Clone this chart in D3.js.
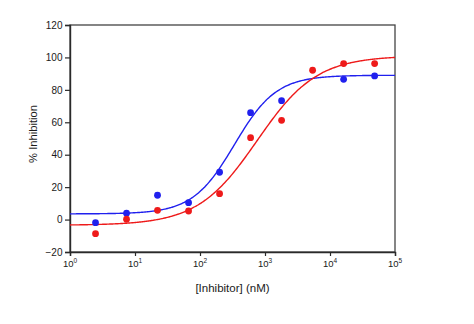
<!DOCTYPE html>
<html>
<head>
<meta charset="utf-8">
<script src="https://cdn.jsdelivr.net/npm/d3@7"></script>
<style>
  html, body { margin: 0; padding: 0; background: #fff; }
  svg text { font-family: "Liberation Sans", Arial, sans-serif; fill: #1a1a1a; }
</style>
</head>
<body>
<svg id="chart" width="474" height="324"></svg>
<script>
// Inhibitor concentrations (nM), 3-fold dilution series
const concBlue = [2.47, 7.41, 22.2, 66.7, 200, 600, 1800, 16200, 48600];
const valBlue  = [-1.9, 3.9, 15.0, 10.4, 29.2, 65.9, 73.3, 86.5, 88.6];
const concRed  = [2.47, 7.41, 22.2, 66.7, 200, 600, 1800, 5400, 16200, 48600];
const valRed   = [-8.7, 0.2, 5.7, 5.3, 16.0, 50.5, 61.2, 92.1, 96.2, 96.2];

// Four-parameter logistic fits: [bottom, top, log10 IC50, Hill slope]
const fitBlue = [3.5, 89, 2.53, 1.35];
const fitRed  = [-3.5, 101, 2.88, 0.95];

const xTickExps = [0, 1, 2, 3, 4, 5];
const yTicks = [-20, 0, 20, 40, 60, 80, 100, 120];

const margin = { left: 70, top: 25, right: 79, bottom: 72 };
const W = 474, H = 324;
const svg = d3.select("#chart");

const x = d3.scaleLog().domain([1, 1e5]).range([margin.left, W - margin.right]);
const y = d3.scaleLinear().domain([-20, 120]).range([H - margin.bottom, margin.top]);

const blue = "#2020ee", red = "#ee1a1a";
const ink = "#2a2a2a";

// Frame around the plot area
svg.append("rect")
  .attr("x", x(1)).attr("y", y(120))
  .attr("width", x(1e5) - x(1)).attr("height", y(-20) - y(120))
  .attr("fill", "none").attr("stroke", "#444").attr("stroke-width", 1.3);

// Y axis
const yAxis = svg.append("g")
  .attr("transform", `translate(${x(1)},0)`)
  .call(d3.axisLeft(y).tickValues(yTicks).tickSize(5).tickPadding(2.5).tickFormat(d3.format("d")));
yAxis.select(".domain").attr("stroke", ink).attr("stroke-width", 1.4);
yAxis.selectAll(".tick line").attr("stroke", ink).attr("stroke-width", 1.2);
yAxis.selectAll("text").attr("font-size", 10).style("font-family", "Liberation Sans, Arial, sans-serif").attr("fill", "#1a1a1a");

// X axis (log scale, decades)
const xAxis = svg.append("g")
  .attr("transform", `translate(0,${y(-20)})`)
  .call(d3.axisBottom(x).tickValues(xTickExps.map(e => Math.pow(10, e))).tickSize(4).tickFormat(""));
xAxis.select(".domain").attr("stroke", ink).attr("stroke-width", 1.4);
xAxis.selectAll(".tick line").attr("stroke", ink).attr("stroke-width", 1.2);

// Decade labels with superscript exponents
const xl = svg.append("g").selectAll("text").data(xTickExps).join("text")
  .attr("x", e => x(Math.pow(10, e)))
  .attr("y", y(-20) + 15)
  .attr("text-anchor", "middle")
  .attr("font-size", 9.5);
xl.append("tspan").text("10");
xl.append("tspan").attr("dy", -4).attr("font-size", 6.5).text(e => e);

// Axis titles
svg.append("text")
  .attr("x", (x(1) + x(1e5)) / 2).attr("y", 292)
  .attr("text-anchor", "middle").attr("font-size", 11.5)
  .text("[Inhibitor] (nM)");
svg.append("text")
  .attr("transform", `translate(36.5,134) rotate(-90)`)
  .attr("text-anchor", "middle").attr("font-size", 11.2)
  .text("% Inhibition");

// Fitted curves
function logistic(p, c) {
  const [b, t, lc, h] = p;
  return b + (t - b) / (1 + Math.pow(10, h * (lc - Math.log10(c))));
}
const curveX = d3.range(0, 5.0001, 0.02).map(e => Math.pow(10, e));
const line = d3.line().x(d => x(d[0])).y(d => y(d[1])).curve(d3.curveMonotoneX);

svg.append("path")
  .datum(curveX.map(c => [c, logistic(fitBlue, c)]))
  .attr("d", line).attr("fill", "none").attr("stroke", blue).attr("stroke-width", 1.4);
svg.append("path")
  .datum(curveX.map(c => [c, logistic(fitRed, c)]))
  .attr("d", line).attr("fill", "none").attr("stroke", red).attr("stroke-width", 1.4);

// Data points
svg.append("g").selectAll("circle").data(concBlue.map((c, i) => [c, valBlue[i]])).join("circle")
  .attr("cx", d => x(d[0])).attr("cy", d => y(d[1])).attr("r", 3.4).attr("fill", blue);
svg.append("g").selectAll("circle").data(concRed.map((c, i) => [c, valRed[i]])).join("circle")
  .attr("cx", d => x(d[0])).attr("cy", d => y(d[1])).attr("r", 3.4).attr("fill", red);
</script>
</body>
</html>
